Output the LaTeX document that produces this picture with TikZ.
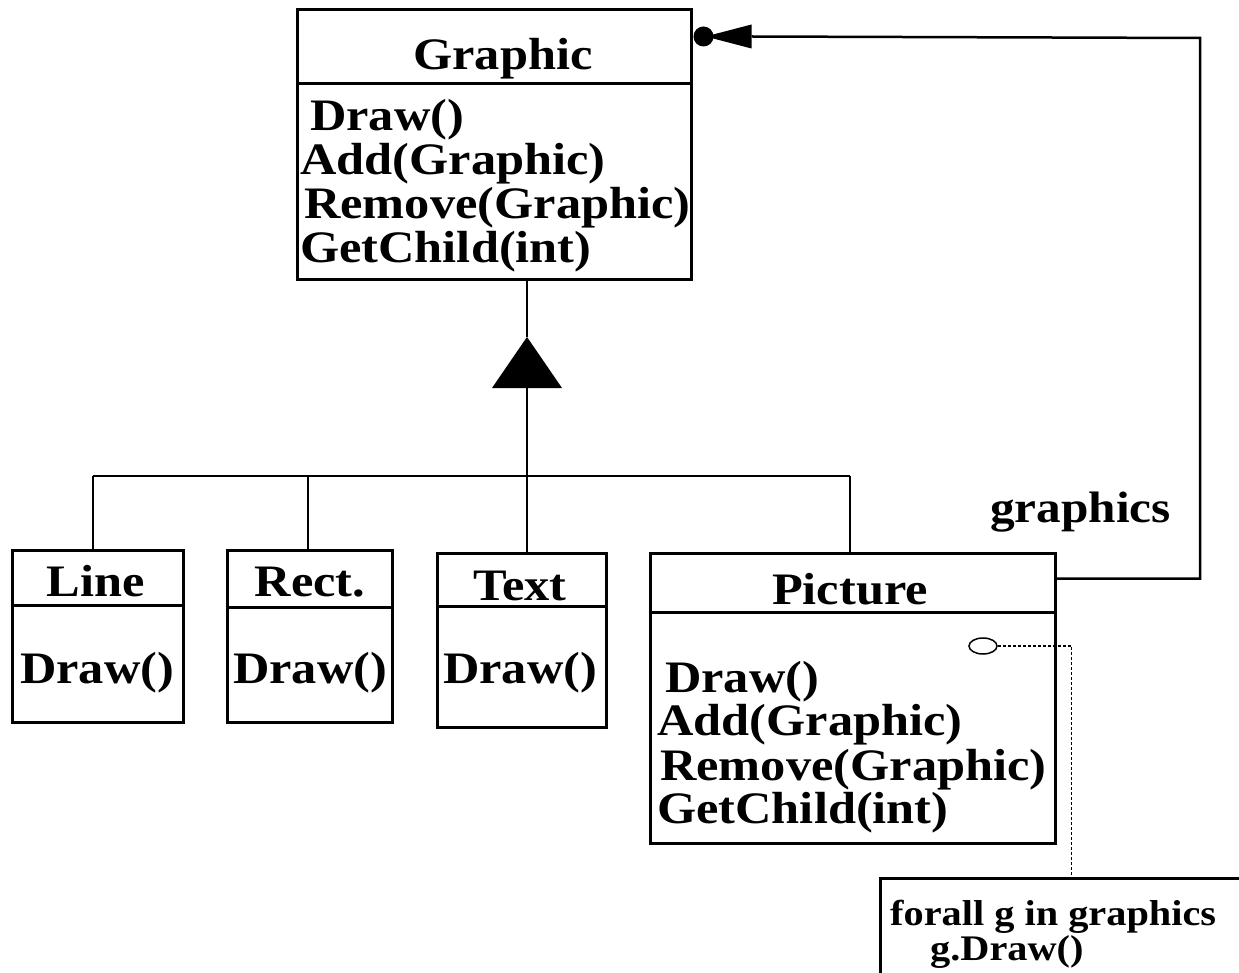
\documentclass[tikz,border=0pt]{standalone}
\usepackage{fontspec}
\setmainfont{Liberation Serif}[FakeStretch=1.12]
\usetikzlibrary{calc,shapes.geometric}
\tikzset{
  umlbox/.style={draw, line width=3pt, rectangle, inner sep=0pt},
  lbl/.style={inner sep=0pt, font=\bfseries\fontsize{45}{45}\selectfont},
  lblsmall/.style={inner sep=0pt, font=\bfseries\fontsize{36}{36}\selectfont},
  conn/.style={line width=2.5pt},
  divider/.style={line width=3pt},
  dots/.style={line width=1.5pt, dash pattern=on 3pt off 2pt}
}
\begin{document}
\begin{tikzpicture}[x=1pt,y=-1pt]
\useasboundingbox (0,0) rectangle (1239,973);
\fill[white] (0,0) rectangle (1239,973);
\clip (0,0) rectangle (1239,973);

% Graphic
\node[umlbox, minimum width=394pt, minimum height=270pt] (graphic) at (494,145) {};
\draw[divider] (graphic.west |- 0,84) -- (graphic.east |- 0,84);
\node[lbl, anchor=base] (gTitle) at (503,70) {Graphic};
\node[lbl, anchor=base west] (gM1) at (310,131) {Draw()};
\node[lbl, anchor=base west] (gM2) at (300,175) {Add(Graphic)};
\node[lbl, anchor=base west] (gM3) at (304,219) {Remove(Graphic)};
\node[lbl, anchor=base west] (gM4) at (300,263) {GetChild(int)};

% Line
\node[umlbox, minimum width=171pt, minimum height=172pt] (line) at (97.5,636) {};
\draw[divider] (line.west |- 0,605) -- (line.east |- 0,605);
\node[lbl, anchor=base] (lTitle) at (96,596) {Line};
\node[lbl, anchor=base] (lM1) at (97,683) {Draw()};

% Rect
\node[umlbox, minimum width=165pt, minimum height=172pt] (rect) at (309.5,636) {};
\draw[divider] (rect.west |- 0,607) -- (rect.east |- 0,607);
\node[lbl, anchor=base] (rTitle) at (310,596) {Rect.};
\node[lbl, anchor=base] (rM1) at (310,683) {Draw()};

% Text
\node[umlbox, minimum width=169pt, minimum height=174pt] (text) at (521.5,640) {};
\draw[divider] (text.west |- 0,606) -- (text.east |- 0,606);
\node[lbl, anchor=base] (tTitle) at (520,600) {Text};
\node[lbl, anchor=base] (tM1) at (520,683) {Draw()};

% Picture
\node[umlbox, minimum width=405pt, minimum height=290pt] (picture) at (852.5,698) {};
\draw[divider] (picture.west |- 0,612) -- (picture.east |- 0,612);
\node[lbl, anchor=base] (pTitle) at (850,604) {Picture};
\node[lbl, anchor=base west] (pM1) at (665,692) {Draw()};
\node[lbl, anchor=base west] (pM2) at (657,735) {Add(Graphic)};
\node[lbl, anchor=base west] (pM3) at (660,780) {Remove(Graphic)};
\node[lbl, anchor=base west] (pM4) at (657,823) {GetChild(int)};

% Note
\node[umlbox, minimum width=390pt, minimum height=132pt] (note) at (1075,944) {};
\node[lblsmall, anchor=base west] (n1) at (890,925) {forall g in graphics};
\node[lblsmall, anchor=base west] (n2) at (930,960) {g.Draw()};

% graphics label
\node[inner sep=0pt, font=\bfseries\fontsize{44}{44}\selectfont, anchor=base west] (aggLbl) at (990,522) {graphics};

% Inheritance
\coordinate (apex) at (527,337);
\coordinate (baseL) at (492,388);
\coordinate (baseR) at (562,388);
\coordinate (baseM) at (527,388);
\coordinate (busL) at (93,476);
\coordinate (busR) at (850,476);
\coordinate (busRect) at (308,476);
\draw[conn] (apex |- graphic.south) -- (apex);
\fill (apex) -- (baseR) -- (baseL) -- cycle;
\draw[conn] (baseM) -- (baseM |- text.north);
\draw[conn] (busL) -- (busR);
\draw[conn] (busL) -- (busL |- line.north);
\draw[conn] (busRect) -- (busRect |- rect.north);
\draw[conn] (busR) -- (busR |- picture.north);

% Aggregation
\coordinate (aggStart) at ($(picture.north east)+(0,27)$);
\coordinate (aggEnd) at ($(graphic.north east)+(0,28)$);
\coordinate (aggCorner) at (1200,38);
\draw[conn] (aggStart) -| (aggCorner) -- ($(aggEnd)+(59,0)$);
\fill ($(aggEnd)+(11,0)$) circle[radius=10pt];
\fill ($(aggEnd)+(13,0)$) -- ($(aggEnd)+(59,-12)$) -- ($(aggEnd)+(59,12)$) -- cycle;

% Note link
\node[ellipse, draw, line width=1.5pt, minimum width=28pt, minimum height=16pt, inner sep=0pt] (ball) at (983,646) {};
\draw[dots] (ball.east) -| ($(note.north west)+(193,0)$);
\end{tikzpicture}
\end{document}
